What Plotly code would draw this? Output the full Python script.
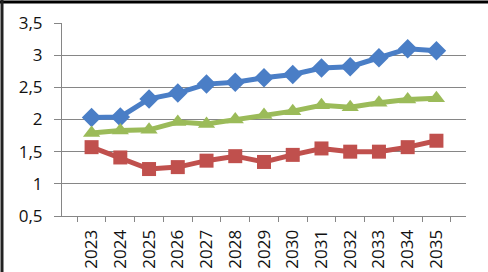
import plotly.graph_objects as go

years = ["2023","2024","2025","2026","2027","2028","2029","2030","2031","2032","2033","2034","2035"]
blue_vals = [2.03, 2.04, 2.32, 2.41, 2.55, 2.58, 2.65, 2.70, 2.80, 2.82, 2.96, 3.10, 3.07]
red_vals = [1.57, 1.41, 1.23, 1.26, 1.36, 1.43, 1.34, 1.45, 1.55, 1.50, 1.50, 1.57, 1.67]
green_vals = [1.79, 1.83, 1.84, 1.96, 1.93, 2.00, 2.07, 2.13, 2.22, 2.19, 2.26, 2.31, 2.33]
y_ticks = [0.5, 1, 1.5, 2, 2.5, 3, 3.5]
y_labels = ["0,5", "1", "1,5", "2", "2,5", "3", "3,5"]

fig = go.Figure()
series = [
    (blue_vals, "#4A7EC6", "diamond", 15),
    (red_vals, "#C0504D", "square", 14),
    (green_vals, "#9BBB59", "triangle-up", 15),
]
for vals, col, sym, sz in series:
    fig.add_trace(go.Scatter(
        x=years, y=vals, mode="lines+markers",
        line=dict(color=col, width=5),
        marker=dict(symbol=sym, size=sz, color=col),
        showlegend=False,
    ))

fig.update_layout(
    width=488, height=272,
    margin=dict(l=62, r=22, t=23, b=56, autoexpand=False),
    paper_bgcolor="white", plot_bgcolor="white",
    font=dict(family="Open Sans, Liberation Sans, sans-serif", size=17, color="#111"),
    xaxis=dict(
        type="category", tickangle=-90, tickson="boundaries",
        ticks="outside", ticklen=5, tickcolor="#868686",
        showline=True, linecolor="#868686", linewidth=1,
        showgrid=False, tickfont=dict(size=17), automargin=False,
        ticklabelstandoff=6,
    ),
    yaxis=dict(
        range=[0.5, 3.5], tickvals=y_ticks, ticktext=y_labels,
        ticks="outside", ticklen=7, tickcolor="#868686",
        showline=True, linecolor="#868686", linewidth=1,
        showgrid=True, gridcolor="#868686", gridwidth=1,
        zeroline=False, tickfont=dict(size=17), ticklabelstandoff=8,
        automargin=False,
    ),
    shapes=[
        dict(type="line", xref="paper", yref="paper", x0=-62/404, x1=1.1,
             y0=1 + 21/193, y1=1 + 21/193, line=dict(color="black", width=3)),
        dict(type="line", xref="paper", yref="paper", x0=-60/404, x1=-60/404,
             y0=-0.5, y1=1.2, line=dict(color="#222", width=3)),
    ],
)

fig.write_html("out.html", config={"displayModeBar": False},
               post_script="document.body.style.margin='0';document.body.style.padding='0';")
